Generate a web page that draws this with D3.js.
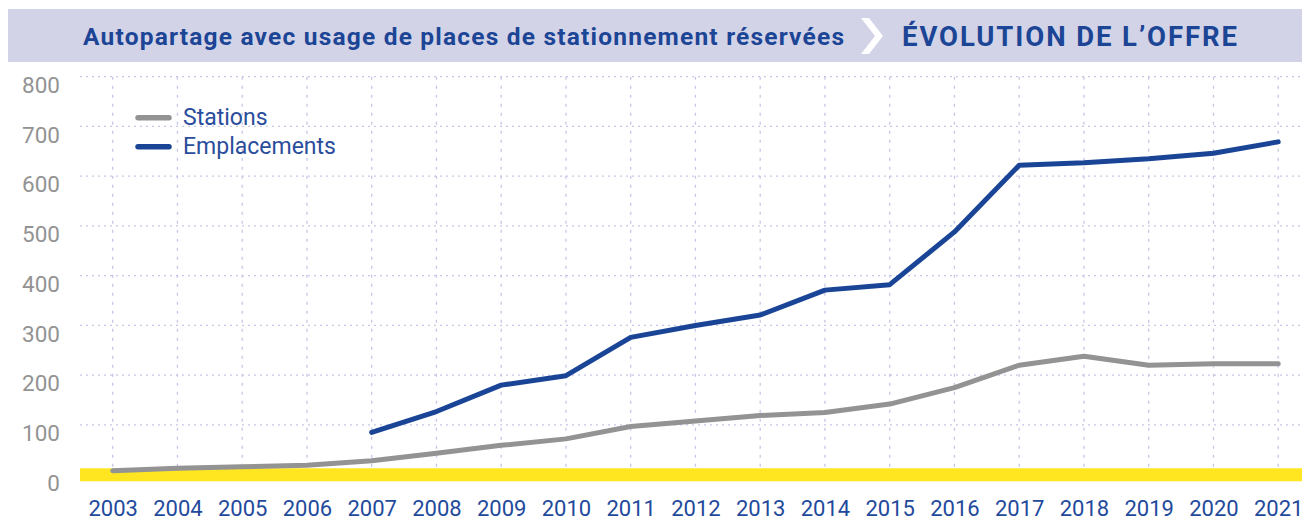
<!DOCTYPE html>
<html>
<head>
<meta charset="utf-8">
<script src="https://cdn.jsdelivr.net/npm/d3@7"></script>
<style>
  body { margin: 0; background: #fff; }
  svg { display: block; font-family: Roboto, "Liberation Sans", sans-serif; }
</style>
</head>
<body>
<div id="chart"></div>
<script>
const years = [2003, 2004, 2005, 2006, 2007, 2008, 2009, 2010, 2011, 2012, 2013, 2014, 2015, 2016, 2017, 2018, 2019, 2020, 2021];
const stations = [8, 13, 16, 19, 28, 43, 59, 72, 97, 108, 119, 125, 142, 175, 220, 238, 220, 223, 223];
// pas de donnée "emplacements" avant 2007
const emplacements = [null, null, null, null, 85, 127, 180, 199, 276, 300, 321, 371, 382, 488, 622, 627, 635, 646, 669];
const yTicks = [0, 100, 200, 300, 400, 500, 600, 700, 800];
const seriesNames = ["Stations", "Emplacements"];
const title = "Autopartage avec usage de places de stationnement réservées";
const subtitle = "ÉVOLUTION DE L’OFFRE";

const width = 1302;
const height = 522;

const blue = "#1a4597";
const grey = "#939393";
const gridColor = "#c6c6e6";

const svg = d3.select("#chart")
    .append("svg")
    .attr("width", width)
    .attr("height", height);

const x = d3.scaleLinear()
    .domain([2003, 2021])
    .range([112.7, 1278.2]);

const y = d3.scaleLinear()
    .domain([0, 800])
    .range([474.7, 76.7]);

// bandeau titre
svg.append("rect")
    .attr("x", 8).attr("y", 9)
    .attr("width", width - 8).attr("height", 53)
    .attr("fill", "#d3d3e8");

svg.append("text")
    .attr("x", 83).attr("y", 45)
    .attr("font-size", 24.5).attr("font-weight", 700)
    .attr("fill", "#1c4595")
    .attr("textLength", 761)
    .attr("lengthAdjust", "spacing")
    .text(title);

svg.append("polygon")
    .attr("points", "861,18 869,18 883,36 869,54 861,54 875,36")
    .attr("fill", "#fff");

svg.append("text")
    .attr("x", 902).attr("y", 46)
    .attr("font-size", 27.5).attr("font-weight", 700)
    .attr("fill", "#1c4595")
    .attr("textLength", 335)
    .attr("lengthAdjust", "spacing")
    .text(subtitle);

// grille
svg.append("g")
    .selectAll("line")
    .data(yTicks.filter(d => d > 0))
    .enter().append("line")
    .attr("x1", 80).attr("x2", width)
    .attr("y1", d => y(d)).attr("y2", d => y(d))
    .attr("stroke", gridColor)
    .attr("stroke-width", 1.3)
    .attr("stroke-dasharray", "2,4");

svg.append("g")
    .selectAll("line")
    .data(years)
    .enter().append("line")
    .attr("x1", d => x(d)).attr("x2", d => x(d))
    .attr("y1", y(800)).attr("y2", y(0) - 6)
    .attr("stroke", gridColor)
    .attr("stroke-width", 1.3)
    .attr("stroke-dasharray", "3,6");

// ligne du zéro (bande jaune)
svg.append("line")
    .attr("x1", 80).attr("x2", width)
    .attr("y1", y(0)).attr("y2", y(0))
    .attr("stroke", "#ffe620")
    .attr("stroke-width", 13);

// axes
const yAxis = svg.append("g")
    .attr("transform", "translate(60, 0)")
    .call(d3.axisLeft(y).tickValues(yTicks).tickSize(0).tickPadding(0));
yAxis.select(".domain").remove();
yAxis.selectAll("text")
    .attr("dy", "0.7em")
    .attr("font-family", "Roboto, sans-serif")
    .attr("font-size", 22.5)
    .attr("font-weight", 400)
    .attr("fill", "#939393");

const xAxis = svg.append("g")
    .attr("transform", "translate(0, 500)")
    .call(d3.axisBottom(x).tickValues(years).tickFormat(d3.format("d")).tickSize(0).tickPadding(0));
xAxis.select(".domain").remove();
xAxis.selectAll("text")
    .attr("font-family", "Roboto, sans-serif")
    .attr("font-size", 22)
    .attr("fill", "#1f4a9c");

// courbes
const line = d3.line()
    .defined(d => d.v != null)
    .x(d => x(d.year))
    .y(d => y(d.v));

svg.append("path")
    .datum(years.map((year, i) => ({ year, v: stations[i] })))
    .attr("fill", "none")
    .attr("stroke", grey)
    .attr("stroke-width", 5)
    .attr("stroke-linecap", "round")
    .attr("stroke-linejoin", "round")
    .attr("d", line);

svg.append("path")
    .datum(years.map((year, i) => ({ year, v: emplacements[i] })))
    .attr("fill", "none")
    .attr("stroke", blue)
    .attr("stroke-width", 5)
    .attr("stroke-linecap", "round")
    .attr("stroke-linejoin", "round")
    .attr("d", line);

// légende
const legend = svg.append("g")
    .selectAll("g")
    .data(seriesNames)
    .enter().append("g")
    .attr("transform", (d, i) => `translate(0, ${117.7 + i * 29})`);

legend.append("line")
    .attr("x1", 138).attr("x2", 169)
    .attr("stroke", (d, i) => i === 0 ? grey : blue)
    .attr("stroke-width", 5.5)
    .attr("stroke-linecap", "round");

legend.append("text")
    .attr("x", 183).attr("y", 7.5)
    .attr("font-size", 23)
    .attr("fill", "#2a4d9c")
    .text(d => d);
</script>
</body>
</html>
